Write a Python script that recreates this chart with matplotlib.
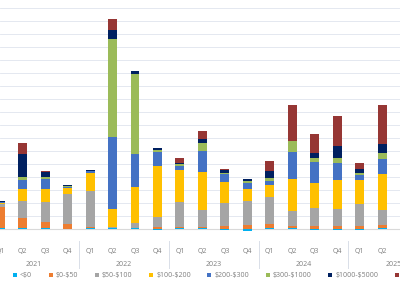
import numpy as np
import matplotlib
matplotlib.use("Agg")
import matplotlib.pyplot as plt
import matplotlib.transforms as mtransforms

plt.rcParams['font.family'] = ['Open Sans', 'DejaVu Sans']
plt.rcParams['text.parse_math'] = False

quarters = ['Q1', 'Q2', 'Q3', 'Q4'] * 4 + ['Q1', 'Q2', 'Q3']
years = ['2021', '2022', '2023', '2024', '2025']

series_names = ['<$0', '$0-$50', '$50-$100', '$100-$200', '$200-$300',
                '$300-$1000', '$1000-$5000', '>$5000']
colors = ['#00B0F0', '#ED7D31', '#A5A5A5', '#FFC000', '#4472C4',
          '#9BBB59', '#002060', '#963634']

lt0 = [0.3, 0.4, 0.5, -0.6, 0.2, 0.8, 0.8, -1.0, 0.4, 0.3, -1.0, -1.5,
       0.5, 0.4, -1.3, -1.2, -1.0, 0.4, 0.3]
b0_50 = [16.5, 8.0, 5.0, 3.5, 0.9, 0.0, 0.0, 1.5, 0.8, 0.8, 2.3, 2.8,
         3.1, 1.9, 1.7, 1.7, 2.3, 2.1, 1.5]
b50_100 = [2.5, 12.8, 15.4, 23.1, 27.7, 0.8, 3.4, 7.2, 19.2, 13.6, 17.7, 18.5,
           21.0, 11.3, 14.4, 13.3, 16.9, 12.1, 13.8]
b100_200 = [0.8, 9.0, 9.4, 4.6, 14.0, 13.4, 27.7, 39.5, 24.9, 28.9, 15.7, 9.5,
            9.0, 24.5, 19.2, 22.8, 18.0, 27.7, 34.6]
b200_300 = [0.5, 7.2, 7.9, 1.2, 1.3, 55.8, 25.6, 10.8, 2.8, 15.9, 6.6, 4.1,
            3.1, 20.8, 16.2, 12.5, 4.3, 11.3, 6.2]
b300_1000 = [0.2, 2.3, 1.9, 0.3, 0.3, 75.2, 61.5, 1.3, 1.3, 6.2, 0.8, 1.5,
             2.3, 8.3, 2.5, 4.3, 1.1, 4.6, 3.1]
b1000_5000 = [0.3, 17.7, 3.8, 1.0, 1.0, 6.9, 2.5, 2.1, 1.3, 3.3, 1.8, 2.1,
              5.2, 0.0, 4.2, 8.8, 3.3, 7.2, 6.2]
gt5000 = [0.0, 8.2, 0.8, 0.0, 0.0, 8.5, 0.0, 0.0, 3.8, 5.9, 1.0, 0.0,
          7.5, 28.1, 14.5, 23.5, 4.4, 30.0, 50.0]

series = [lt0, b0_50, b50_100, b100_200, b200_300, b300_1000, b1000_5000, gt5000]

fig = plt.figure(figsize=(4.0, 2.83), dpi=100)
ax = fig.add_axes([0, 45 / 283, 1, 238 / 283])

x = np.arange(len(quarters))
w = 0.4
handles = []
bottom = np.maximum(np.array(lt0), 0)
for i, (name, vals, c) in enumerate(zip(series_names, series, colors)):
    vals = np.array(vals)
    if i == 0:
        h = ax.bar(x, vals, w, color=c, label=name, zorder=3)
    else:
        h = ax.bar(x, vals, w, bottom=bottom, color=c, label=name, zorder=3)
        bottom = bottom + vals
    handles.append(h)

ax.set_xlim(-0.011, 17.8)
ax.set_ylim(-7.15, 175.9)
for g in range(10, 180, 10):
    ax.axhline(g, color='#DFE4EE', lw=0.6, zorder=0)
ax.axhline(0, color='#D9D9D9', lw=0.8, zorder=1)
ax.set_xticks([])
ax.set_yticks([])
for s in ax.spines.values():
    s.set_visible(False)

trans = mtransforms.blended_transform_factory(ax.transData, fig.transFigure)
txt_col = '#7F7F7F'
for i, q in enumerate(quarters):
    ax.text(i, 1 - 251 / 283, q, transform=trans, ha='center', va='center',
            fontsize=5, color=txt_col, clip_on=False)
for k, y in enumerate(years):
    ax.text(4 * k + 1.5, 1 - 264 / 283, y, transform=trans, ha='center',
            va='center', fontsize=5, color=txt_col, clip_on=False)
for k in range(4):
    ax.plot([4 * k + 3.5] * 2, [1 - 241 / 283, 1 - 268 / 283], transform=trans,
            color='#D9DEE8', lw=0.7, clip_on=False)

fig.legend(handles=handles, loc='center left', bbox_to_anchor=(0.032, 1 - 276 / 283),
           ncol=8, frameon=False, fontsize=5, handlelength=0.6, handleheight=0.6,
           handletextpad=0.45, columnspacing=2.35, labelcolor=txt_col,
           borderaxespad=0, borderpad=0)

fig.savefig('out.png', dpi=100)
